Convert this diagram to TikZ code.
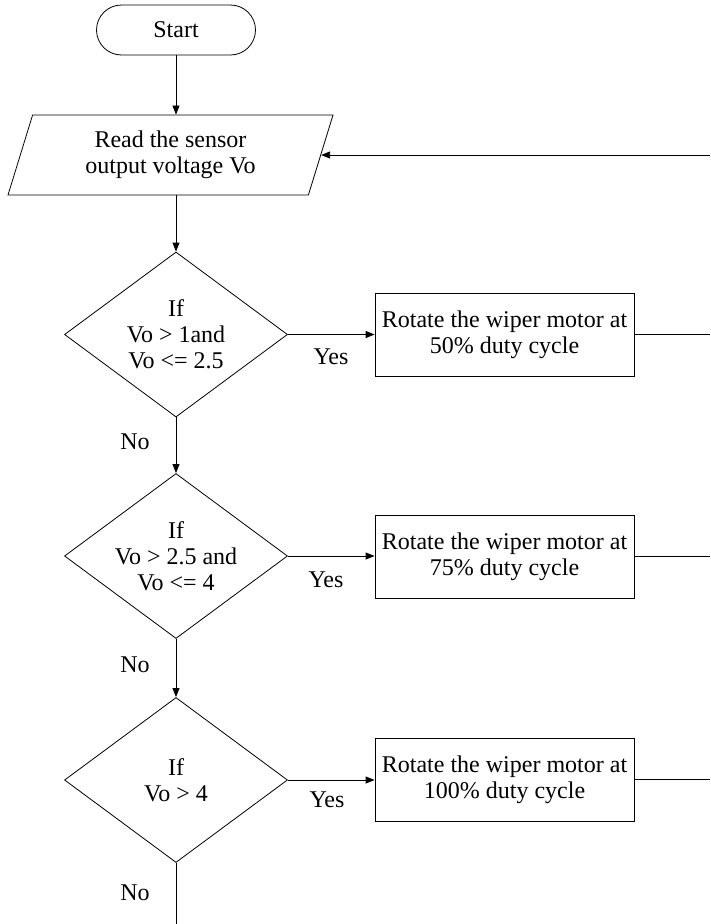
\documentclass[tikz,border=0pt]{standalone}
\usepackage{fontspec}
\setmainfont{Liberation Serif}
\usetikzlibrary{shapes.geometric,arrows.meta}
\begin{document}
\begin{tikzpicture}[
  x=1pt, y=-1pt,
  font=\fontsize{24}{26}\selectfont,
  line width=0.8pt,
  term/.style={draw, rounded corners=25pt, minimum width=159pt, minimum height=50pt, inner sep=2pt},
  io/.style={draw, trapezium, trapezium left angle=64.6, trapezium right angle=115.4, trapezium stretches body, minimum width=325pt, minimum height=80pt, align=center, inner sep=2pt},
  test/.style={draw, diamond, aspect=1.35, minimum width=223pt, minimum height=165pt, inner sep=1pt, align=center},
  box/.style={draw, align=center, minimum width=259pt, minimum height=83pt, inner sep=1pt},
  lbl/.style={inner sep=0pt},
  arr/.style={-{Triangle[length=9pt,width=7pt]}}
]
\useasboundingbox (0,0) rectangle (710,924);
\node[term] (start) at (176,30) {Start};
\node[io] (read) at (170.5,155) {Read the sensor\\output voltage Vo};
\node[test] (d1) at (176,334.5) {If\\Vo > 1and\\Vo <= 2.5};
\node[test] (d2) at (176,556) {If\\Vo > 2.5 and\\Vo <= 4};
\node[test] (d3) at (176,780) {If\\Vo > 4};
\node[box] (m50) at (504.5,334.5) {Rotate the wiper motor at\\50\% duty cycle};
\node[box] (m75) at (504.5,556.5) {Rotate the wiper motor at\\75\% duty cycle};
\node[box] (m100) at (504.5,779.5) {Rotate the wiper motor at\\100\% duty cycle};
\node[lbl] (yes1) at (331,357) {Yes};
\node[lbl] (yes2) at (326,580) {Yes};
\node[lbl] (yes3) at (327,800) {Yes};
\node[lbl] (no1) at (135,442) {No};
\node[lbl] (no2) at (135,665) {No};
\node[lbl] (no3) at (135,893) {No};
\coordinate (back) at (710,155);
\coordinate (r1) at (710,334.5);
\coordinate (r2) at (710,556.5);
\coordinate (r3) at (710,779.5);
\coordinate (stop) at (176,924);
\draw[arr] (start.south) -- (start.south |- read.north);
\draw[arr] (d1.north |- read.south) -- (d1.north);
\draw[arr] (back) -- (read.right side);
\draw[arr] (d1.east) -- (d1.east -| m50.west);
\draw[arr] (d2.east) -- (d2.east -| m75.west);
\draw[arr] (d3.east) -- (d3.east -| m100.west);
\draw (m50.east) -- (r1);
\draw (m75.east) -- (r2);
\draw (m100.east) -- (r3);
\draw[arr] (d1.south) -- (d2.north);
\draw[arr] (d2.south) -- (d3.north);
\draw (d3.south) -- (stop);
\end{tikzpicture}
\end{document}
